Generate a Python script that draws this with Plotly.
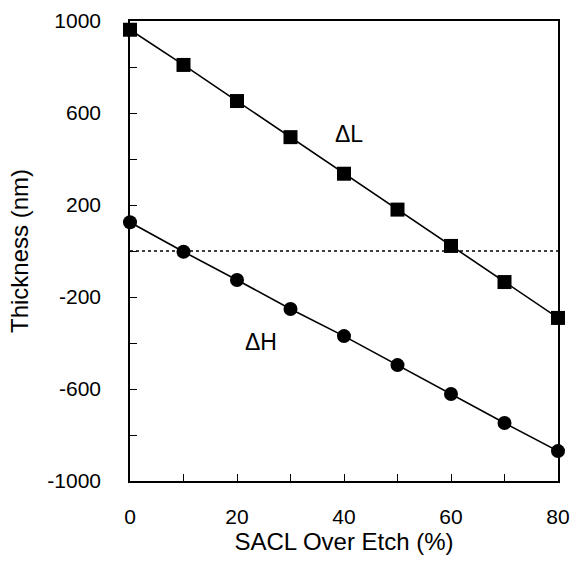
import plotly.graph_objects as go

x_vals = [0, 10, 20, 30, 40, 50, 60, 70, 80]
delta_L = [962, 809, 652, 495, 336, 180, 22, -135, -291]
delta_H = [125, -3, -126, -252, -370, -496, -622, -748, -870]
ref_line_x = [0, 80]
ref_line_y = [0, 0]

x_tickvals = list(range(0, 81, 10))
x_ticktext = [str(v) if v % 20 == 0 else "" for v in x_tickvals]
y_tickvals = list(range(-1000, 1001, 200))
y_ticktext = [str(v) if (v + 1000) % 400 == 0 else "" for v in y_tickvals]

FONT = "Liberation Sans, Arial, sans-serif"

fig = go.Figure()
fig.add_trace(go.Scatter(x=ref_line_x, y=ref_line_y, mode="lines",
                         line=dict(color="black", width=1.5, dash="dot"),
                         showlegend=False, hoverinfo="skip"))
fig.add_trace(go.Scatter(x=x_vals, y=delta_L, mode="lines+markers",
                         line=dict(color="black", width=1.6),
                         marker=dict(symbol="square", size=14, color="black"),
                         cliponaxis=False, showlegend=False))
fig.add_trace(go.Scatter(x=x_vals, y=delta_H, mode="lines+markers",
                         line=dict(color="black", width=1.6),
                         marker=dict(symbol="circle", size=14, color="black"),
                         cliponaxis=False, showlegend=False))

fig.add_annotation(x=41, y=510, text="ΔL", showarrow=False,
                   font=dict(family=FONT, size=23, color="black"))
fig.add_annotation(x=24.4, y=-395, text="ΔH", showarrow=False,
                   font=dict(family=FONT, size=23, color="black"))

fig.update_xaxes(range=[0, 80], tickvals=x_tickvals, ticktext=x_ticktext,
                 ticks="inside", ticklen=7, tickwidth=1.3, tickcolor="black",
                 showline=True, linecolor="black", linewidth=1.6, mirror=True,
                 showgrid=False, zeroline=False, ticklabelstandoff=16,
                 ticklabeloverflow="allow",
                 tickfont=dict(family=FONT, size=21, color="black"),
                 title=dict(text="SACL Over Etch (%)", standoff=3,
                            font=dict(family=FONT, size=24, color="black")))
fig.update_yaxes(range=[-1000, 1000], tickvals=y_tickvals, ticktext=y_ticktext,
                 ticks="inside", ticklen=7, tickwidth=1.3, tickcolor="black",
                 showline=True, linecolor="black", linewidth=1.6, mirror=True,
                 showgrid=False, zeroline=False, ticklabelstandoff=23,
                 ticklabeloverflow="allow",
                 tickfont=dict(family=FONT, size=21, color="black"),
                 title=dict(text="Thickness (nm)", standoff=12,
                            font=dict(family=FONT, size=24, color="black")))

fig.update_layout(width=572, height=570,
                  margin=dict(l=130, r=14, t=21, b=89, autoexpand=False),
                  plot_bgcolor="white", paper_bgcolor="white",
                  font=dict(family=FONT, color="black"))

fig.write_html("out.html", config={"displayModeBar": False},
               post_script="document.body.style.margin='0';document.body.style.overflow='hidden';")
